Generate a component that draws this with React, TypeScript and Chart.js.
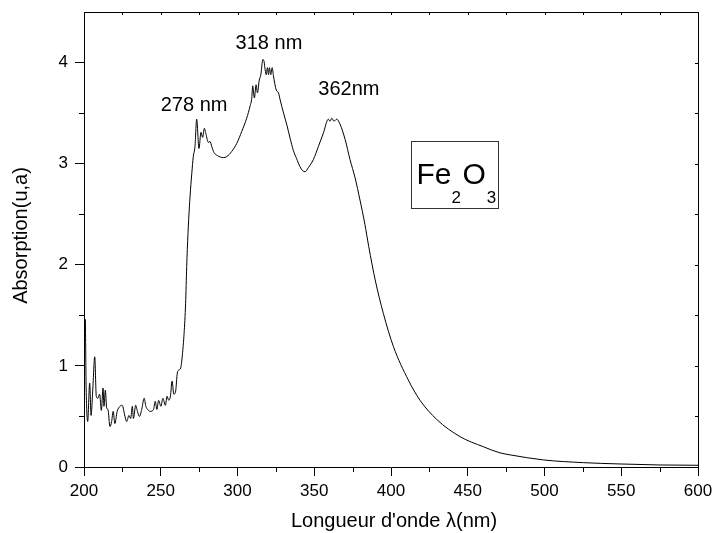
import { useEffect, useRef } from 'react';
import { Chart, registerables } from 'chart.js';

Chart.register(...registerables);

const FONT = '"Liberation Sans", Arial, Helvetica, sans-serif';

// Wavelength (nm)
const wavelengths = [
  200.0, 200.8, 201.4, 202.4, 203.7, 204.6, 205.7, 207.0, 208.0, 209.0,
  210.2, 211.3, 212.4, 213.0, 213.9, 214.8, 215.6, 216.9, 218.0, 219.0,
  220.1, 221.6, 223.4, 224.9, 226.7, 227.8, 229.3, 230.4, 231.5, 232.2,
  233.7, 234.8, 236.1, 237.6, 239.2, 240.3, 241.4, 243.1, 245.3, 246.4,
  247.5, 248.6, 250.1, 251.4, 253.0, 254.1, 255.2, 256.3, 257.4, 258.5,
  259.7, 260.8, 261.9, 263.0, 264.1, 265.2, 266.2, 266.9, 267.3, 268.2,
  269.1, 270.2, 271.2, 272.3, 273.4, 274.9, 276.2, 277.3, 278.4, 279.5,
  281.0, 282.1, 283.2, 284.7, 286.9, 290.8, 293.0, 296.2, 299.5, 302.8,
  306.0, 308.2, 309.3, 309.9, 311.0, 312.1, 313.0, 314.1, 315.2, 316.5,
  317.3, 318.0, 318.7, 319.5, 320.2, 320.8, 321.7, 322.6, 323.4, 325.2,
  326.7, 327.8, 330.0, 332.2, 334.3, 336.4, 338.5, 340.7, 342.5, 344.0,
  346.1, 349.4, 352.7, 355.9, 359.2, 360.3, 361.4, 362.9, 364.6, 366.8,
  370.1, 373.3, 376.6, 379.8, 383.0, 385.5, 389.7, 395.0, 401.6, 411.3,
  418.9, 429.8, 445.0, 460.2, 471.0, 477.6, 499.3, 525.3, 549.2, 575.3,
  600.0,
];

// Absorption (u.a)
const absorbance = [
  0.80, 1.46, 0.78, 0.45, 0.83, 0.51, 0.76, 1.09, 0.70, 0.68,
  0.72, 0.56, 0.78, 0.60, 0.76, 0.58, 0.57, 0.40, 0.45, 0.55,
  0.43, 0.55, 0.60, 0.61, 0.50, 0.45, 0.51, 0.48, 0.60, 0.48,
  0.61, 0.55, 0.50, 0.57, 0.68, 0.60, 0.57, 0.55, 0.57, 0.65,
  0.57, 0.66, 0.60, 0.68, 0.61, 0.70, 0.66, 0.70, 0.85, 0.72,
  0.75, 0.93, 0.96, 0.98, 1.11, 1.32, 1.62, 1.98, 2.15, 2.45,
  2.68, 2.90, 3.07, 3.17, 3.44, 3.15, 3.31, 3.26, 3.35, 3.29,
  3.21, 3.22, 3.17, 3.11, 3.08, 3.06, 3.07, 3.12, 3.20, 3.32,
  3.45, 3.57, 3.65, 3.77, 3.65, 3.78, 3.70, 3.82, 3.88, 4.03,
  4.01, 3.93, 3.88, 3.95, 3.88, 3.95, 3.88, 3.95, 3.87, 3.73,
  3.70, 3.63, 3.50, 3.38, 3.25, 3.13, 3.05, 2.97, 2.93, 2.92,
  2.96, 3.04, 3.17, 3.30, 3.44, 3.42, 3.45, 3.42, 3.44, 3.39,
  3.24, 3.04, 2.86, 2.64, 2.40, 2.18, 1.85, 1.52, 1.19, 0.86,
  0.66, 0.47, 0.30, 0.20, 0.14, 0.12, 0.07, 0.043, 0.03, 0.02,
  0.017,
];

const xMajorTicks = [200, 250, 300, 350, 400, 450, 500, 550, 600];
const xMinorTicks = [225, 275, 325, 375, 425, 475, 525, 575];
const yMajorTicks = [0, 1, 2, 3, 4];
const yMinorTicks = [0.5, 1.5, 2.5, 3.5];

const peakLabels = ['278 nm', '318 nm', '362nm'];
const peakLabelX = [271.7, 320.5, 372.6];
const peakLabelY = [3.58, 4.19, 3.73];

const xTitle = "Longueur d'onde \u03BB(nm)";
const yTitle = 'Absorption(u,a)';

// legend box corners in data units
const boxX = [413, 469.7];
const boxY = [3.22, 2.56];

const decorPlugin = {
  id: 'decor',
  afterDraw(chart: any) {
    const { ctx, chartArea: a, scales } = chart;
    const xs = scales.x;
    const ys = scales.y;
    const al = (v: number) => Math.round(v) + 0.5;
    ctx.save();
    ctx.strokeStyle = '#000';
    ctx.lineWidth = 1;
    ctx.beginPath();
    // frame top & right
    ctx.moveTo(al(a.left), al(a.top));
    ctx.lineTo(al(a.right), al(a.top));
    ctx.moveTo(al(a.right), al(a.top));
    ctx.lineTo(al(a.right), al(a.bottom));
    // bottom minor ticks (outward)
    xMinorTicks.forEach((v) => {
      const p = al(xs.getPixelForValue(v));
      ctx.moveTo(p, a.bottom);
      ctx.lineTo(p, a.bottom + 5);
    });
    // top ticks (inward)
    [...xMajorTicks, ...xMinorTicks].forEach((v) => {
      const p = al(xs.getPixelForValue(v));
      ctx.moveTo(p, a.top);
      ctx.lineTo(p, a.top + 3);
    });
    // left minor ticks (outward)
    yMinorTicks.forEach((v) => {
      const p = al(ys.getPixelForValue(v));
      ctx.moveTo(a.left, p);
      ctx.lineTo(a.left - 5, p);
    });
    // right ticks (inward)
    [...yMajorTicks, ...yMinorTicks].forEach((v) => {
      const p = al(ys.getPixelForValue(v));
      ctx.moveTo(a.right, p);
      ctx.lineTo(a.right - 3, p);
    });
    ctx.stroke();

    ctx.fillStyle = '#000';
    // peak labels
    ctx.font = `20px ${FONT}`;
    ctx.textAlign = 'center';
    ctx.textBaseline = 'middle';
    peakLabels.forEach((t, i) => {
      ctx.fillText(t, xs.getPixelForValue(peakLabelX[i]), ys.getPixelForValue(peakLabelY[i]));
    });

    // axis titles
    ctx.font = `20px ${FONT}`;
    ctx.fillText(xTitle, (a.left + a.right) / 2 + 3, a.bottom + 54);
    ctx.save();
    ctx.translate(21, (a.top + a.bottom) / 2 - 4);
    ctx.rotate(-Math.PI / 2);
    ctx.fillText(yTitle, 0, 0);
    ctx.restore();

    // legend box
    const bl = al(xs.getPixelForValue(boxX[0]));
    const br = al(xs.getPixelForValue(boxX[1]));
    const bt = al(ys.getPixelForValue(boxY[0]));
    const bb = al(ys.getPixelForValue(boxY[1]));
    ctx.strokeStyle = '#333';
    ctx.strokeRect(bl, bt, br - bl, bb - bt);
    ctx.textAlign = 'left';
    ctx.textBaseline = 'alphabetic';
    const base = bt + 42.5;
    let x = bl + 5;
    ctx.font = `30px ${FONT}`;
    ctx.fillText('Fe', x, base);
    x += ctx.measureText('Fe').width;
    ctx.font = `17px ${FONT}`;
    ctx.fillText('2', x, base + 18.5);
    x += ctx.measureText('2').width + 1.5;
    ctx.font = `30px ${FONT}`;
    ctx.fillText('O', x, base);
    x += ctx.measureText('O').width + 1;
    ctx.font = `17px ${FONT}`;
    ctx.fillText('3', x, base + 18.5);
    ctx.restore();
  },
};

export default function App() {
  const ref = useRef<HTMLCanvasElement | null>(null);

  useEffect(() => {
    if (!ref.current) return;
    const points = wavelengths.map((w, i) => ({ x: w, y: absorbance[i] }));
    const chart = new Chart(ref.current, {
      type: 'line',
      data: {
        datasets: [
          {
            data: points,
            borderColor: '#000',
            borderWidth: 1,
            pointRadius: 0,
            fill: false,
            cubicInterpolationMode: 'monotone',
          },
        ],
      },
      options: {
        animation: false,
        responsive: false,
        devicePixelRatio: 1,
        layout: { padding: { top: 12, right: 14, left: 0, bottom: 0 } },
        plugins: { legend: { display: false }, tooltip: { enabled: false }, title: { display: false } },
        scales: {
          x: {
            type: 'linear',
            min: 200,
            max: 600,
            afterBuildTicks: (s: any) => {
              s.ticks = xMajorTicks.map((v) => ({ value: v }));
            },
            afterFit: (s: any) => {
              s.height = 66;
              s.paddingLeft = 0;
              s.paddingRight = 0;
            },
            grid: { display: true, drawOnChartArea: false, drawTicks: true, tickLength: 9, color: '#000' },
            border: { display: true, color: '#000', width: 1 },
            ticks: { color: '#000', font: { family: FONT, size: 17 }, padding: 5, maxRotation: 0, autoSkip: false },
          },
          y: {
            type: 'linear',
            min: 0,
            max: 4.5,
            afterBuildTicks: (s: any) => {
              s.ticks = yMajorTicks.map((v) => ({ value: v }));
            },
            afterFit: (s: any) => {
              s.width = 84;
              s.paddingTop = 0;
              s.paddingBottom = 0;
            },
            grid: { display: true, drawOnChartArea: false, drawTicks: true, tickLength: 9, color: '#000' },
            border: { display: true, color: '#000', width: 1 },
            ticks: { color: '#000', font: { family: FONT, size: 17 }, padding: 7, autoSkip: false },
          },
        },
      },
      plugins: [decorPlugin],
    });
    return () => chart.destroy();
  }, []);

  return (
    <div style={{ position: 'absolute', left: 0, top: 0, width: 712, height: 533, background: '#fff' }}>
      <canvas ref={ref} width={712} height={533} style={{ width: 712, height: 533, display: 'block' }} />
    </div>
  );
}
